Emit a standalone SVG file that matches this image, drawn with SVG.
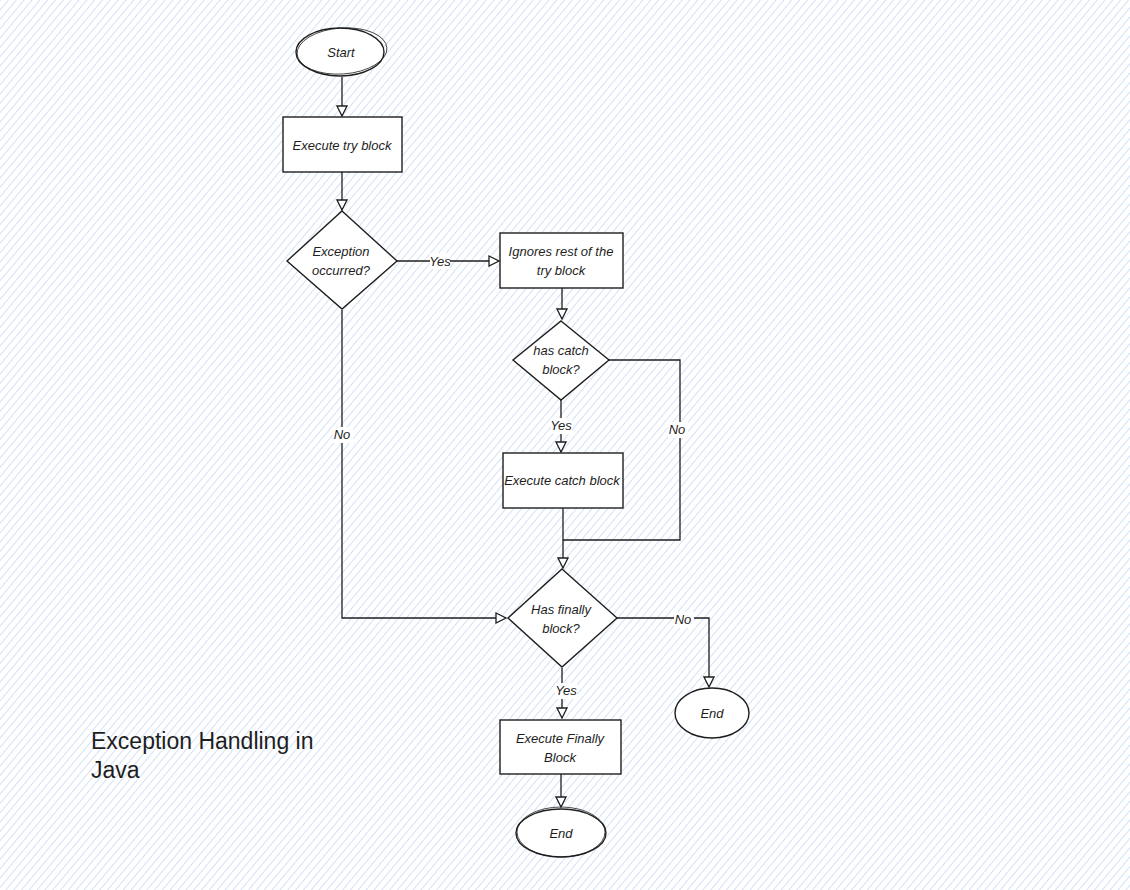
<svg xmlns="http://www.w3.org/2000/svg" width="1130" height="890" viewBox="0 0 1130 890">
<defs>
<pattern id="hatch" width="6" height="6" patternUnits="userSpaceOnUse" patternTransform="rotate(40)">
<rect width="6" height="6" fill="#ffffff"/>
<line x1="0" y1="0" x2="0" y2="6" stroke="#d3e2f6" stroke-width="2"/>
</pattern>
<marker id="arr" viewBox="0 0 12 12" refX="11" refY="6" markerWidth="12" markerHeight="12" markerUnits="userSpaceOnUse" orient="auto">
<path d="M1,1 L11,6 L1,11 Z" fill="#ffffff" stroke="#1e1e1e" stroke-width="1.3"/>
</marker>
<style>
.shape{fill:#ffffff;stroke:#1e1e1e;stroke-width:1.4}
.sk{fill:none;stroke:#1e1e1e;stroke-width:0.8}
.edge{fill:none;stroke:#1e1e1e;stroke-width:1.3}
.lbl{font-family:"Liberation Sans",Arial,sans-serif;font-size:13px;fill:#1e1e1e;text-anchor:middle;font-style:italic}
.elbl{font-family:"Liberation Sans",Arial,sans-serif;font-size:13px;fill:#1e1e1e;text-anchor:middle;font-style:italic}
.bg{fill:#ffffff}
.title{font-family:"Liberation Sans",Arial,sans-serif;font-size:23px;fill:#1e1e1e}
</style>
</defs>
<rect x="0" y="0" width="1130" height="890" fill="url(#hatch)"/>

<g id="connectors">
<path class="edge" d="M342,77 L342,116" marker-end="url(#arr)"/>
<path class="edge" d="M342,172 L342,210" marker-end="url(#arr)"/>
<path class="edge" d="M397,261 L499,261" marker-end="url(#arr)"/>
<rect class="bg" x="430" y="253" width="20" height="16"/>
<text class="elbl" x="440" y="266">Yes</text>
<path class="edge" d="M562,288 L562,319" marker-end="url(#arr)"/>
<path class="edge" d="M561,400 L561,452" marker-end="url(#arr)"/>
<rect class="bg" x="551" y="418" width="21" height="16"/>
<text class="elbl" x="561" y="430">Yes</text>
<path class="edge" d="M609,360 L680,360 L680,540 L563,540"/>
<rect class="bg" x="668" y="422" width="20" height="16"/>
<text class="elbl" x="677" y="434">No</text>
<path class="edge" d="M563,508 L563,568" marker-end="url(#arr)"/>
<path class="edge" d="M342,310 L342,618 L506,618" marker-end="url(#arr)"/>
<rect class="bg" x="333" y="427" width="20" height="16"/>
<text class="elbl" x="342" y="439">No</text>
<path class="edge" d="M617,618 L709,618 L709,687" marker-end="url(#arr)"/>
<rect class="bg" x="674" y="612" width="20" height="16"/>
<text class="elbl" x="683" y="624">No</text>
<path class="edge" d="M562,668 L562,718" marker-end="url(#arr)"/>
<rect class="bg" x="555" y="683" width="22" height="16"/>
<text class="elbl" x="566" y="695">Yes</text>
<path class="edge" d="M561,774 L561,807" marker-end="url(#arr)"/>
</g>

<g id="start">
<ellipse class="shape" cx="340" cy="52" rx="44" ry="24"/>
<ellipse class="sk" cx="342" cy="51" rx="45" ry="23" transform="rotate(-4 342 51)"/>
<text class="lbl" x="341" y="57">Start</text>
</g>

<g id="try">
<rect class="shape" x="283" y="117" width="119" height="55"/>
<text class="lbl" x="342" y="150">Execute try block</text>
</g>

<g id="exc">
<polygon class="shape" points="342,211 397,261 342,309 287,261"/>
<text class="lbl" x="341" y="256">Exception</text>
<text class="lbl" x="341" y="275">occurred?</text>
</g>

<g id="ignores">
<rect class="shape" x="500" y="233" width="123" height="55"/>
<text class="lbl" x="561" y="256">Ignores rest of the</text>
<text class="lbl" x="561" y="275">try block</text>
</g>

<g id="hascatch">
<polygon class="shape" points="561,321 609,360 561,400 513,360"/>
<text class="lbl" x="561" y="355">has catch</text>
<text class="lbl" x="561" y="374">block?</text>
</g>

<g id="catch">
<rect class="shape" x="503" y="453" width="120" height="55"/>
<text class="lbl" x="562" y="485">Execute catch block</text>
</g>

<g id="hasfinally">
<polygon class="shape" points="562,569 617,618 562,667 508,618"/>
<text class="lbl" x="561" y="614">Has finally</text>
<text class="lbl" x="561" y="633">block?</text>
</g>

<g id="end1">
<ellipse class="shape" cx="712" cy="713" rx="37" ry="25"/>
<text class="lbl" x="712" y="718">End</text>
</g>

<g id="finally">
<rect class="shape" x="500" y="720" width="121" height="54"/>
<text class="lbl" x="560" y="743">Execute Finally</text>
<text class="lbl" x="560" y="762">Block</text>
</g>

<g id="end2">
<ellipse class="shape" cx="561" cy="833" rx="45" ry="24"/>
<ellipse class="sk" cx="561" cy="832" rx="44" ry="25"/>
<text class="lbl" x="561" y="838">End</text>
</g>

<g id="title">
<text class="title" x="91" y="749">Exception Handling in</text>
<text class="title" x="91" y="778">Java</text>
</g>
</svg>
